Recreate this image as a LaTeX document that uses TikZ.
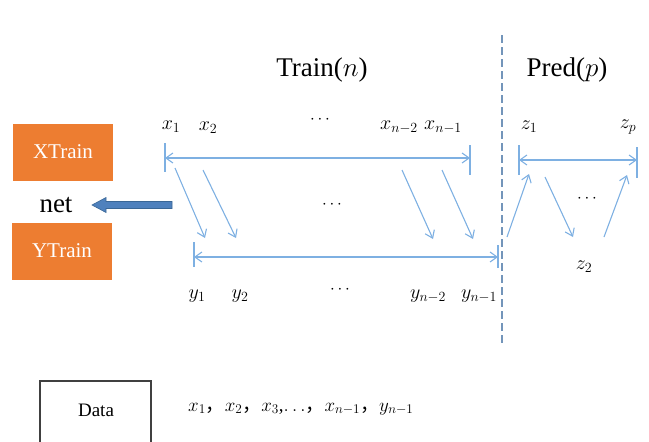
\RequirePackage{fix-cm}
\documentclass[tikz,border=0pt]{standalone}
\usepackage{fontspec}
\setmainfont{Liberation Serif}
\newfontfamily\cjk{Noto Sans CJK SC}
\usetikzlibrary{arrows.meta}
\definecolor{orng}{HTML}{ED7D31}
\definecolor{lblue}{HTML}{7EB0E2}
\definecolor{dblue}{HTML}{4F81BD}
\definecolor{dblueedge}{HTML}{3A6796}
\definecolor{dashc}{HTML}{7395BA}
\begin{document}
\begin{tikzpicture}[x=1pt,y=-1pt,
  box/.style={fill=orng, text=white, minimum width=100pt, minimum height=57pt, inner sep=0pt, font=\fontsize{21}{24}\selectfont},
  lbl/.style={inner sep=0pt, font=\fontsize{20}{22}\selectfont},
  dots/.style={inner sep=0pt, font=\fontsize{17}{20}\selectfont},
  title/.style={inner sep=0pt, font=\fontsize{27}{30}\selectfont},
  conn/.style={draw=lblue, line width=1.1pt},
  arr/.style={conn, -{Straight Barb[length=7pt,width=10pt]}},
  darr/.style={conn, {Straight Barb[length=7pt,width=10pt]}-{Straight Barb[length=7pt,width=10pt]}},
  tick/.style={draw=lblue, line width=1.1pt},
  ]
\useasboundingbox (0,0) rectangle (649,442);

% titles
\node[title] (train) at (322,70) {Train($n$)};
\node[title] (pred) at (567,70) {Pred($p$)};
\draw[dashc, line width=1.2pt, dash pattern=on 8pt off 4pt] (502,35) -- (502,345);

% left boxes
\node[box] (xtrain) at (63,152) {XTrain};
\node[box] (ytrain) at (62,251) {YTrain};
\node[title] (net) at (56,205) {net};
\coordinate (bs) at (172,205);
\coordinate (bt) at (92,205);
\draw[fill=dblue, draw=dblueedge, line width=0.6pt]
  (bs) ++(0,-3.5) -- ++(-66,0) -- ++(0,-4) -- (bt) -- ++(14,7.5) -- ++(0,-4) -- ++(66,0) -- cycle;

% top row labels
\node[lbl] (x1) at (171,127) {$x_1$};
\node[lbl] (x2) at (208,128) {$x_2$};
\node[dots] (xd) at (320,120) {$\cdots$};
\node[lbl] (xn2) at (399,127) {$x_{n-2}$};
\node[lbl] (xn1) at (443,127) {$x_{n-1}$};

% top double arrow
\coordinate (xa) at (165,158);
\coordinate (xb) at (470,158);
\draw[darr] (xa) -- (xb);
\draw[tick] (165,143) -- (165,172);
\draw[tick] (470,145) -- (470,175);

% bottom double arrow
\coordinate (ya) at (194,257);
\coordinate (yb) at (498,257);
\draw[darr] (ya) -- (yb);
\draw[tick] (194,242) -- (194,267);
\draw[tick] (498,245) -- (498,268);

% diagonal arrows
\coordinate (d1s) at (175,168); \coordinate (d1e) at (205,238);
\coordinate (d2s) at (203,170); \coordinate (d2e) at (236,238);
\coordinate (d3s) at (402,170); \coordinate (d3e) at (433,239);
\coordinate (d4s) at (442,170); \coordinate (d4e) at (473,239);
\draw[arr] (d1s) -- (d1e);
\draw[arr] (d2s) -- (d2e);
\draw[arr] (d3s) -- (d3e);
\draw[arr] (d4s) -- (d4e);
\node[dots] (md) at (332,205) {$\cdots$};

% bottom labels
\node[lbl] (y1) at (197,296) {$y_1$};
\node[lbl] (y2) at (240,296) {$y_2$};
\node[dots] (yd) at (340,290) {$\cdots$};
\node[lbl] (yn2) at (428,296) {$y_{n-2}$};
\node[lbl] (yn1) at (479,296) {$y_{n-1}$};

% prediction part
\node[lbl] (z1) at (529,127) {$z_1$};
\node[lbl] (zp) at (628,127) {$z_p$};
\coordinate (za) at (519,160);
\coordinate (zb) at (637,160);
\draw[darr] (za) -- (zb);
\draw[tick] (519,145) -- (519,175);
\draw[tick] (637,147) -- (637,178);
\coordinate (p1s) at (507,237); \coordinate (p1e) at (529,174);
\coordinate (p2s) at (545,177); \coordinate (p2e) at (573,237);
\coordinate (p3s) at (604,237); \coordinate (p3e) at (627,175);
\draw[arr] (p1s) -- (p1e);
\draw[arr] (p2s) -- (p2e);
\draw[arr] (p3s) -- (p3e);
\node[dots] (zd) at (587,199) {$\cdots$};
\node[lbl] (z2) at (584,267) {$z_2$};

% data box
\draw[draw=black!75, line width=1.2pt] (40,442) -- (40,381) -- (151,381) -- (151,442);
\node[inner sep=0pt, font=\fontsize{19}{22}\selectfont] (data) at (96,410) {Data};
\node[inner sep=0pt, font=\fontsize{19}{22}\selectfont, anchor=west] (seq) at (188,409) {$x_1${\cjk ，}$x_2${\cjk ，}$x_3$,$\ldots${\cjk ，}$x_{n-1}${\cjk ，}$y_{n-1}$};
\end{tikzpicture}
\end{document}
